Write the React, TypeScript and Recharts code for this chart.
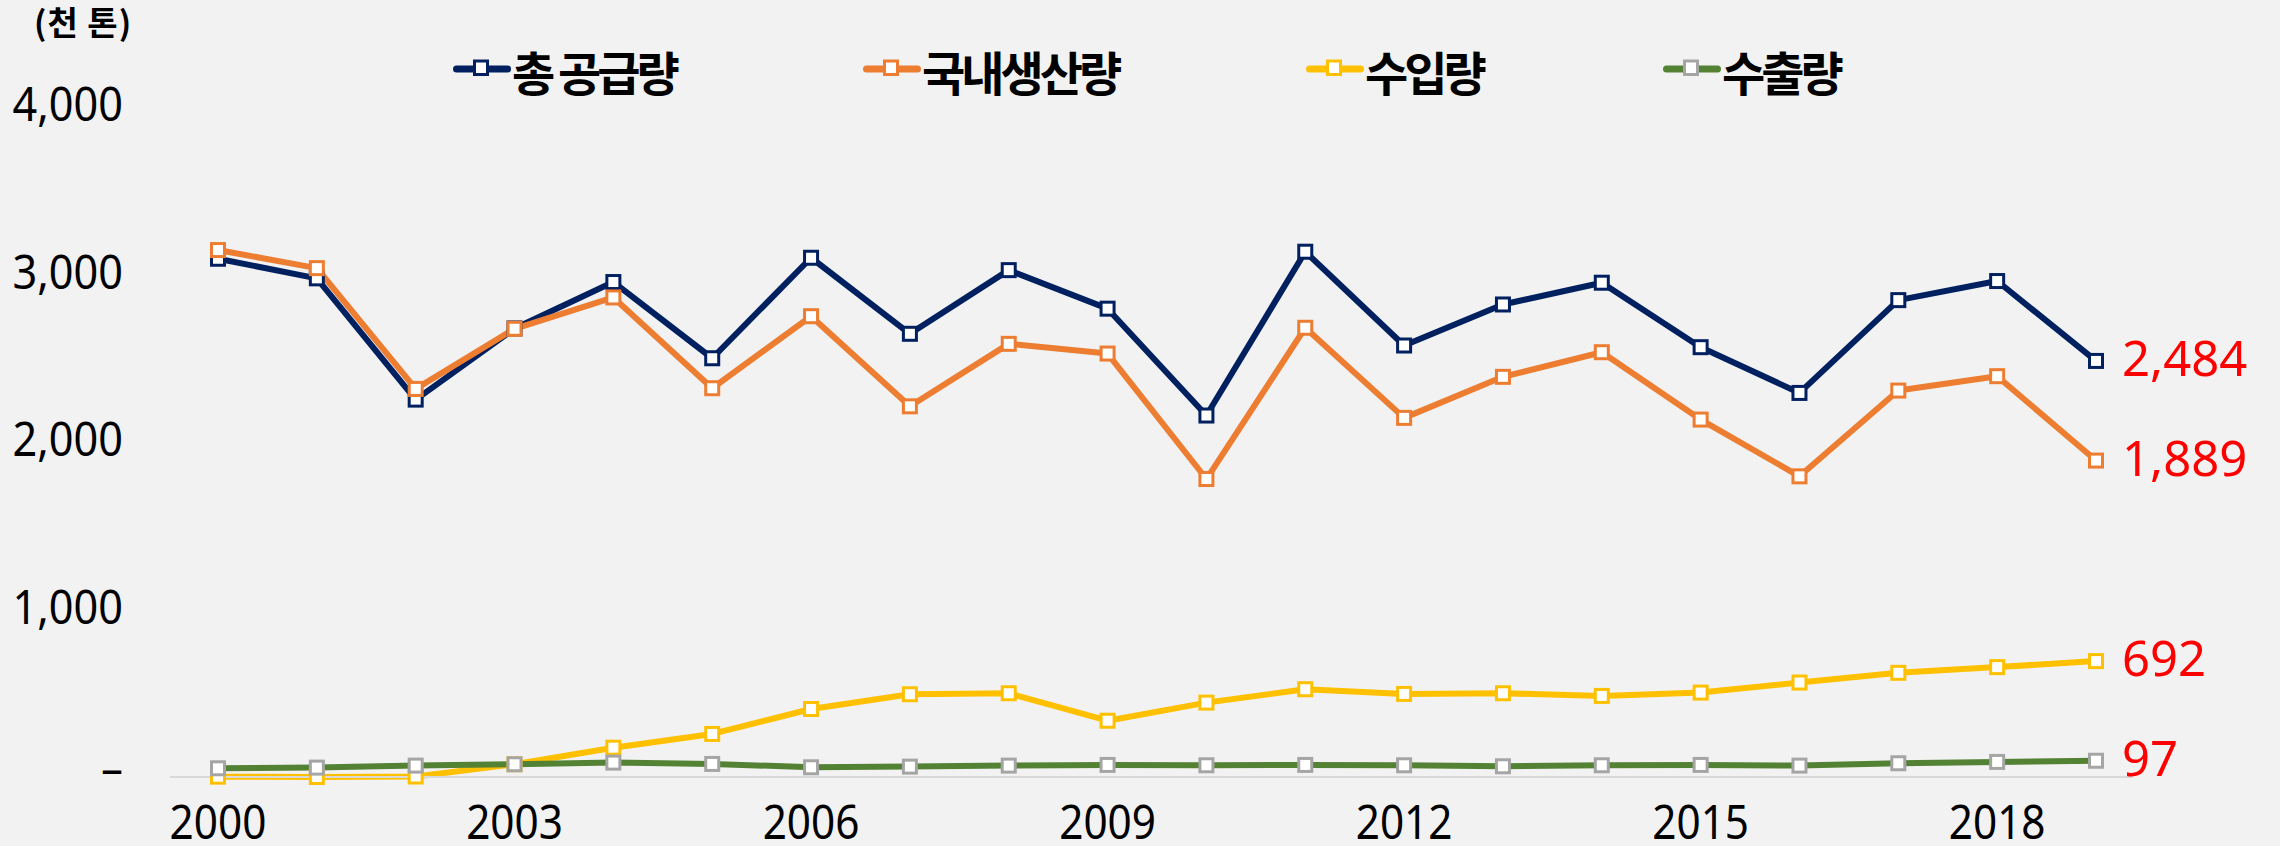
import React from 'react';
import { LineChart, Line, XAxis, YAxis, Legend, LabelList } from 'recharts';

const years = ['2000', '2001', '2002', '2003', '2004', '2005', '2006', '2007', '2008', '2009', '2010', '2011', '2012', '2013', '2014', '2015', '2016', '2017', '2018', '2019'];
const totalSupply = [3094, 2977, 2253, 2678, 2955, 2500, 3100, 2646, 3026, 2796, 2158, 3136, 2576, 2821, 2951, 2566, 2293, 2847, 2961, 2484];
const domesticProduction = [3146, 3038, 2317, 2676, 2863, 2321, 2751, 2213, 2586, 2528, 1779, 2682, 2144, 2389, 2536, 2134, 1795, 2307, 2393, 1889];
const importVolume = [2, 0, 3, 76, 175, 257, 406, 494, 500, 336, 444, 524, 496, 500, 484, 504, 564, 622, 656, 692];
const exportVolume = [52, 56, 68, 76, 86, 78, 58, 62, 68, 72, 70, 72, 70, 64, 70, 72, 68, 82, 90, 97];
const yTicks = [0, 1000, 2000, 3000, 4000];
const xTickLabels = ['2000', '2003', '2006', '2009', '2012', '2015', '2018'];
const seriesNames = ['총 공급량', '국내생산량', '수입량', '수출량'];
const endLabels = ['2,484', '1,889', '692', '97'];
const unitLabel = '(천 톤)';

const data = years.map((year, i) => ({
  year,
  total: totalSupply[i],
  domestic: domesticProduction[i],
  imp: importVolume[i],
  exp: exportVolume[i],
}));

const series = [
  { key: 'total', name: seriesNames[0], color: '#002060', marker: '#002060', end: endLabels[0] },
  { key: 'domestic', name: seriesNames[1], color: '#ED7D31', marker: '#ED7D31', end: endLabels[1] },
  { key: 'imp', name: seriesNames[2], color: '#FFC000', marker: '#FFC000', end: endLabels[2] },
  { key: 'exp', name: seriesNames[3], color: '#548235', marker: '#A5A5A5', end: endLabels[3] },
];

// legend item left edges (style only)
const legendItemLeft = [453, 863, 1306, 1663];

const AXIS_FONT = '"Noto Sans", "DejaVu Sans", sans-serif';
const KR_FONT = '"Noto Sans CJK KR", "Noto Sans", sans-serif';

const makeDot = (stroke: string) => (props: any) => {
  const { cx, cy, index } = props;
  if (cx == null || cy == null) return <g key={`d-${index}`} />;
  return (
    <rect
      key={`d-${index}`}
      x={cx - 6.5}
      y={cy - 6.5}
      width={13}
      height={13}
      fill="#FFFFFF"
      stroke={stroke}
      strokeWidth={3}
    />
  );
};

const XTick = (props: any) => {
  const { x, y, payload } = props;
  if (!xTickLabels.includes(String(payload.value))) return <g />;
  return (
    <g transform={`translate(${x},${y + 62}) scale(0.9,1)`}>
      <text x={0} y={0} textAnchor="middle" fill="#000" fontSize={47} fontFamily={AXIS_FONT}>
        {payload.value}
      </text>
    </g>
  );
};

const YTick = (props: any) => {
  const { x, y, payload } = props;
  const v = Number(payload.value);
  if (v === 0) {
    return (
      <text x={x - 69} y={y + 7} textAnchor="start" fill="#000" fontSize={44} fontFamily={AXIS_FONT}>
        –
      </text>
    );
  }
  return (
    <g transform={`translate(${x - 47},${y + 14}) scale(0.92,1)`}>
      <text x={0} y={0} textAnchor="end" fill="#000" fontSize={47} fontFamily={AXIS_FONT}>
        {v.toLocaleString('en-US')}
      </text>
    </g>
  );
};

const LegendContent = () => (
  <div style={{ position: 'relative', width: 2280, height: 110 }}>
    {series.map((s, i) => (
      <div key={s.key} style={{ position: 'absolute', left: legendItemLeft[i], top: 0, height: 110, whiteSpace: 'nowrap' }}>
        <svg width={58} height={20} style={{ position: 'absolute', left: 0, top: 59, display: 'block' }}>
          <line x1={3.5} y1={10} x2={54.5} y2={10} stroke={s.color} strokeWidth={7} strokeLinecap="round" />
          <rect x={21.5} y={2} width={13} height={13.5} fill="#FFFFFF" stroke={s.marker} strokeWidth={3} />
        </svg>
        <span
          style={{
            position: 'absolute',
            left: 59,
            top: 43,
            fontFamily: KR_FONT,
            fontWeight: 700,
            fontSize: 47,
            letterSpacing: -4,
            lineHeight: '56px',
            color: '#000',
          }}
        >
          {s.name}
        </span>
      </div>
    ))}
  </div>
);

export default function App() {
  return (
    <div
      style={{
        position: 'fixed',
        left: 0,
        top: 0,
        width: 2280,
        height: 846,
        background: '#F2F2F2',
        overflow: 'hidden',
      }}
    >
      <div
        style={{
          position: 'absolute',
          left: 34,
          top: 5,
          fontFamily: KR_FONT,
          fontWeight: 700,
          fontSize: 33,
          letterSpacing: 1,
          lineHeight: '33px',
          color: '#000',
          whiteSpace: 'pre',
        }}
      >
        {unitLabel}
      </div>
      <LineChart
        width={2280}
        height={846}
        data={data}
        margin={{ top: 107, right: 147, bottom: 0, left: 20 }}
      >
        <XAxis
          dataKey="year"
          interval={2}
          height={69}
          tickLine={false}
          tickSize={0}
          tickMargin={0}
          axisLine={{ stroke: '#D9D9D9', strokeWidth: 2 }}
          padding={{ left: 48, right: 37 }}
          tick={<XTick />}
        />
        <YAxis
          width={150}
          domain={[0, 4000]}
          ticks={yTicks}
          interval={0}
          axisLine={false}
          tickLine={false}
          tickSize={0}
          tickMargin={0}
          tick={<YTick />}
        />
        <Legend
          layout="horizontal"
          verticalAlign="middle"
          align="center"
          content={<LegendContent />}
          wrapperStyle={{ position: 'absolute', top: 0, left: 0, width: 2280, height: 110 }}
        />
        {series.map((s) => (
          <Line
            key={s.key}
            type="linear"
            dataKey={s.key}
            name={s.name}
            stroke={s.color}
            strokeWidth={6}
            strokeLinejoin="round"
            dot={makeDot(s.marker)}
            activeDot={false}
            isAnimationActive={false}
          >
            <LabelList
              dataKey={s.key}
              content={(p: any) =>
                p.index === years.length - 1 ? (
                  <text
                    key={`lbl-${s.key}`}
                    x={Number(p.x) + 26}
                    y={Number(p.y) - 4}
                    dominantBaseline="central"
                    fill="#FF0000"
                    fontSize={49}
                    fontFamily={AXIS_FONT}
                  >
                    {s.end}
                  </text>
                ) : null
              }
            />
          </Line>
        ))}
      </LineChart>
    </div>
  );
}
